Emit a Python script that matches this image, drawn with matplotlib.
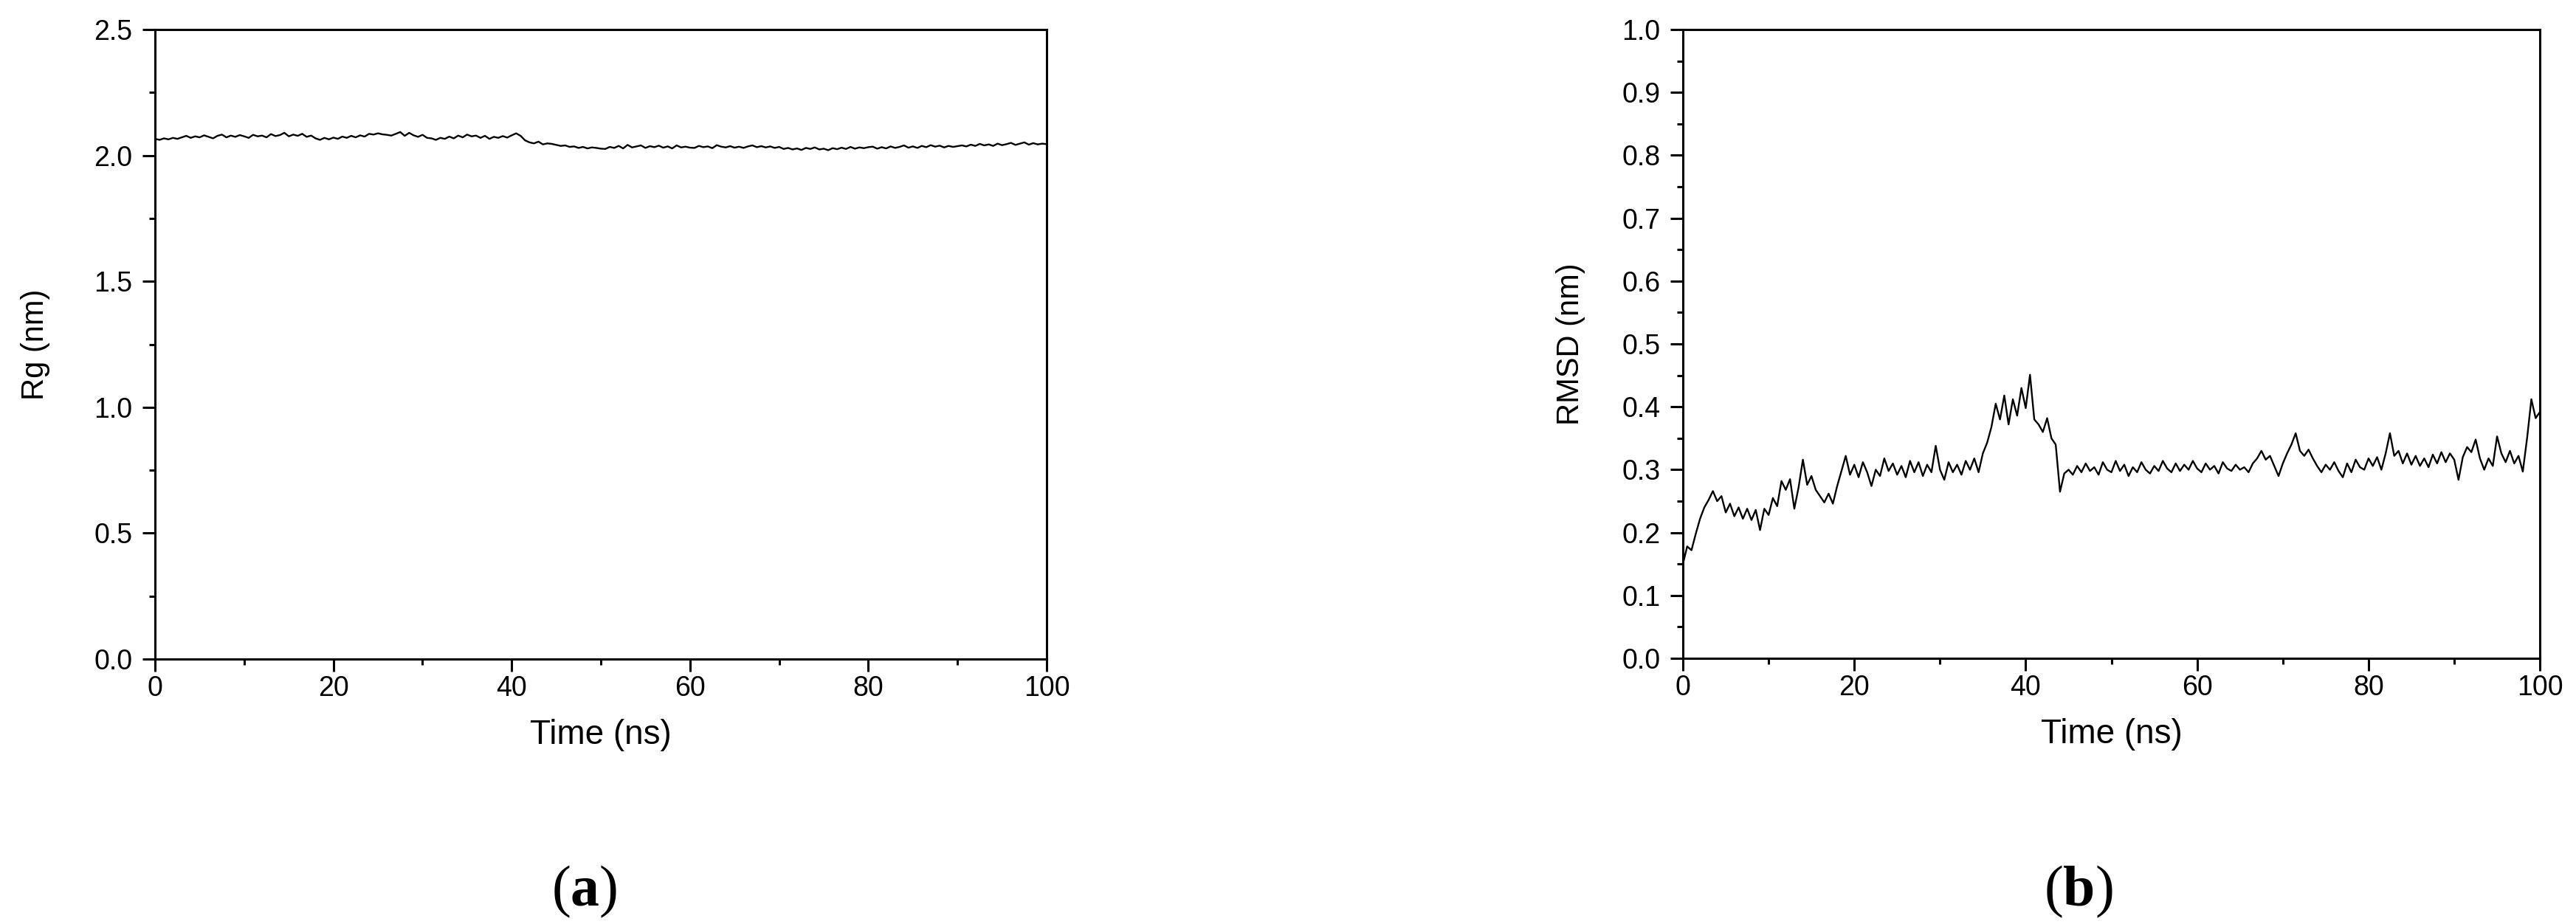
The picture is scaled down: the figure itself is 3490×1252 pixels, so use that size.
import numpy as np
import matplotlib
matplotlib.use('Agg')
import matplotlib.pyplot as plt
from matplotlib.ticker import MultipleLocator

plt.rcParams['font.family'] = ['Liberation Sans', 'DejaVu Sans']
plt.rcParams['mathtext.fontset'] = 'custom'
plt.rcParams['mathtext.rm'] = 'Liberation Serif'
plt.rcParams['mathtext.bf'] = 'Liberation Serif:bold'

# radius of gyration (nm), every 0.5 ns from 0 to 100 ns
rg = [2.066, 2.062, 2.068, 2.064, 2.070, 2.066, 2.072, 2.078, 2.070, 2.076, 2.072, 2.080, 2.074, 2.068, 2.078, 2.083, 2.072, 2.079, 2.074, 2.081, 2.076,
      2.070, 2.082, 2.076, 2.079, 2.072, 2.085, 2.077, 2.081, 2.090, 2.076, 2.083, 2.078, 2.086, 2.074, 2.079, 2.068, 2.062, 2.070, 2.064, 2.071,
      2.066, 2.075, 2.070, 2.078, 2.072, 2.080, 2.075, 2.086, 2.083, 2.088, 2.084, 2.082, 2.079, 2.086, 2.093, 2.078, 2.090, 2.080, 2.074, 2.082,
      2.070, 2.068, 2.062, 2.070, 2.066, 2.075, 2.068, 2.079, 2.072, 2.083, 2.076, 2.079, 2.070, 2.078, 2.066, 2.074, 2.070, 2.077, 2.071, 2.080,
      2.088, 2.078, 2.060, 2.052, 2.048, 2.055, 2.044, 2.048, 2.046, 2.042, 2.038, 2.040, 2.034, 2.036, 2.030, 2.034, 2.028, 2.032, 2.030, 2.027,
      2.026, 2.034, 2.030, 2.038, 2.028, 2.042, 2.032, 2.036, 2.040, 2.030, 2.037, 2.033, 2.039, 2.031, 2.036, 2.028, 2.040, 2.032, 2.035, 2.031,
      2.030, 2.038, 2.033, 2.036, 2.029, 2.041, 2.035, 2.032, 2.037, 2.031, 2.035, 2.030, 2.036, 2.040, 2.033, 2.037, 2.032, 2.036, 2.030, 2.034,
      2.026, 2.030, 2.024, 2.028, 2.022, 2.030, 2.026, 2.032, 2.024, 2.027, 2.021, 2.029, 2.025, 2.031, 2.026, 2.034, 2.027, 2.032, 2.029, 2.033,
      2.035, 2.027, 2.033, 2.028, 2.036, 2.030, 2.034, 2.040, 2.031, 2.036, 2.030, 2.038, 2.033, 2.041, 2.035, 2.039, 2.032, 2.038, 2.034, 2.037,
      2.040, 2.036, 2.043, 2.038, 2.046, 2.040, 2.044, 2.038, 2.047, 2.041, 2.045, 2.050, 2.042, 2.047, 2.052, 2.043, 2.049, 2.044, 2.047, 2.045]

# backbone RMSD (nm), same time points
rmsd = [0.150, 0.178, 0.172, 0.198, 0.222, 0.240, 0.252, 0.266, 0.250, 0.258, 0.232, 0.246, 0.226, 0.240, 0.222, 0.238, 0.220, 0.236, 0.204, 0.238, 0.228,
        0.255, 0.242, 0.282, 0.268, 0.285, 0.238, 0.272, 0.316, 0.276, 0.290, 0.268, 0.258, 0.248, 0.262, 0.246, 0.274, 0.298, 0.322, 0.292, 0.308,
        0.288, 0.312, 0.296, 0.274, 0.300, 0.290, 0.318, 0.298, 0.310, 0.292, 0.306, 0.288, 0.314, 0.296, 0.312, 0.290, 0.308, 0.296, 0.338, 0.300,
        0.284, 0.312, 0.296, 0.308, 0.292, 0.314, 0.300, 0.318, 0.296, 0.326, 0.343, 0.368, 0.405, 0.380, 0.418, 0.372, 0.412, 0.386, 0.430, 0.398,
        0.451, 0.380, 0.372, 0.360, 0.382, 0.350, 0.340, 0.265, 0.294, 0.300, 0.292, 0.306, 0.296, 0.310, 0.298, 0.304, 0.292, 0.312, 0.300, 0.296,
        0.314, 0.298, 0.308, 0.290, 0.304, 0.296, 0.312, 0.300, 0.294, 0.306, 0.298, 0.314, 0.302, 0.296, 0.310, 0.298, 0.308, 0.300, 0.314, 0.302,
        0.296, 0.310, 0.300, 0.306, 0.294, 0.312, 0.302, 0.298, 0.308, 0.300, 0.304, 0.296, 0.310, 0.318, 0.330, 0.316, 0.322, 0.306, 0.290, 0.310,
        0.326, 0.340, 0.358, 0.330, 0.322, 0.332, 0.318, 0.306, 0.296, 0.308, 0.300, 0.312, 0.298, 0.288, 0.310, 0.296, 0.316, 0.304, 0.300, 0.318,
        0.306, 0.320, 0.300, 0.326, 0.358, 0.322, 0.330, 0.310, 0.326, 0.308, 0.322, 0.306, 0.318, 0.304, 0.324, 0.310, 0.328, 0.312, 0.326, 0.316,
        0.284, 0.320, 0.336, 0.328, 0.348, 0.318, 0.300, 0.318, 0.306, 0.353, 0.326, 0.312, 0.330, 0.310, 0.322, 0.297, 0.350, 0.412, 0.382, 0.392]

t_rg = np.linspace(0, 100, len(rg))
t_rmsd = np.linspace(0, 100, len(rmsd))

fig = plt.figure(figsize=(34.9, 12.52), dpi=100)
ax1 = fig.add_axes([0.0602, 0.2867, 0.3461, 0.6813])
ax2 = fig.add_axes([0.6533, 0.2875, 0.3327, 0.6805])


def style(ax, ylim, major, minor, ylabel, yl_x):
    ax.set_xlim(0, 100)
    ax.set_ylim(*ylim)
    ax.xaxis.set_major_locator(MultipleLocator(20))
    ax.xaxis.set_minor_locator(MultipleLocator(10))
    ax.yaxis.set_major_locator(MultipleLocator(major))
    ax.yaxis.set_minor_locator(MultipleLocator(minor))
    ax.yaxis.set_major_formatter(plt.FormatStrFormatter('%.1f'))
    for s in ax.spines.values():
        s.set_linewidth(2.2)
    ax.tick_params(which='major', direction='out', length=12, width=2.2, labelsize=27)
    ax.tick_params(which='minor', direction='out', length=6, width=2.2)
    ax.tick_params(axis='x', which='major', pad=4)
    ax.tick_params(axis='y', which='major', pad=10)
    ax.set_xlabel('Time (ns)', fontsize=33)
    ax.xaxis.set_label_coords(0.5, -0.095)
    ax.set_ylabel(ylabel, fontsize=30)
    ax.yaxis.set_label_coords(yl_x, 0.5)


ax1.plot(t_rg, rg, color='black', lw=1.7)
style(ax1, (0, 2.5), 0.5, 0.25, 'Rg (nm)', -0.118)

ax2.plot(t_rmsd, rmsd, color='black', lw=1.7)
style(ax2, (0, 1.0), 0.1, 0.05, 'RMSD (nm)', -0.114)

fig.text(0.2267, 0.035, r'$\mathrm{(}\mathbf{a}\mathrm{)}$', fontsize=56, ha='center', va='center')
fig.text(0.8069, 0.035, r'$\mathrm{(}\mathbf{b}\mathrm{)}$', fontsize=56, ha='center', va='center')

fig.savefig('out.png', dpi=100)
